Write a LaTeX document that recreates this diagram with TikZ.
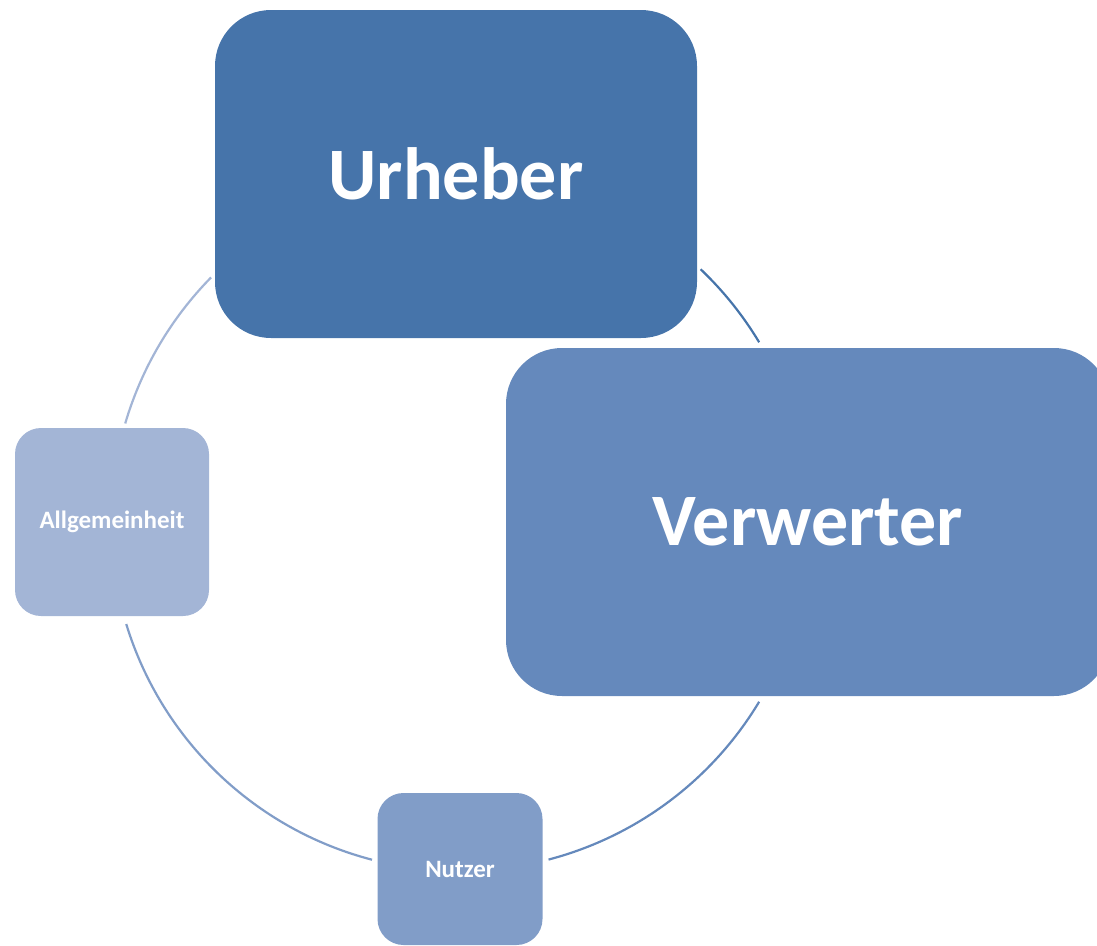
\documentclass[tikz,border=0pt]{standalone}
\usepackage{fontspec}
\setmainfont{Carlito}
\definecolor{urheberblue}{HTML}{4674AA}
\definecolor{verwerterblue}{HTML}{6589BC}
\definecolor{nutzerblue}{HTML}{819DC8}
\definecolor{allgblue}{HTML}{A3B5D6}
\begin{document}
\begin{tikzpicture}[x=1pt, y=1pt,
					box/.style={inner sep=0pt, text=white, font=\bfseries, align=center},
					big/.style={font=\bfseries\fontsize{74}{80}\selectfont, rounded corners=56pt},
					small/.style={font=\bfseries\fontsize{25}{30}\selectfont, rounded corners=26pt},
					link/.style={line width=2.2pt}]
					\useasboundingbox (0,0) rectangle (1097,-945);
					\coordinate (hub) at (460,-522);
					% the four parties
					\node[box, big, fill=urheberblue, minimum width=482, minimum height=328] (urheber) at (456,-174) {Urheber};
					\node[box, big, fill=verwerterblue, minimum width=604, minimum height=348] (verwerter) at (808,-522) {Verwerter};
					\node[box, small, fill=nutzerblue, minimum width=165, minimum height=152] (nutzer) at (460,-869) {Nutzer};
					\node[box, small, fill=allgblue, minimum width=194, minimum height=188] (allgemeinheit) at (112,-522) {Allgemeinheit};
					% cycle
					\draw[link, urheberblue] ([shift={(46.4:349)}]hub) arc[start angle=46.4, end angle=31, radius=349];
					\draw[link, verwerterblue] ([shift={(-31:349)}]hub) arc[start angle=-31, end angle=-75.3, radius=349];
					\draw[link, nutzerblue] ([shift={(-104.6:349)}]hub) arc[start angle=-104.6, end angle=-163, radius=349];
					\draw[link, allgblue] ([shift={(163.6:349)}]hub) arc[start angle=163.6, end angle=135.5, radius=349];
				\end{tikzpicture}
\end{document}
